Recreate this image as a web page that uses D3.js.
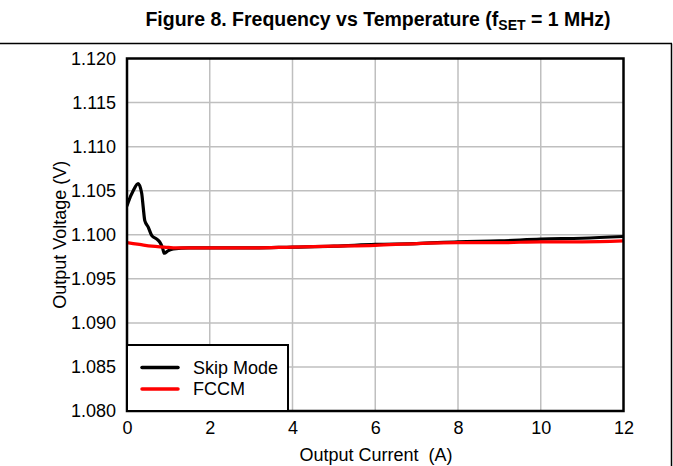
<!DOCTYPE html>
<html><head><meta charset="utf-8">
<script src="https://cdn.jsdelivr.net/npm/d3@7"></script>
<style>
html,body{margin:0;padding:0;background:#fff;}
svg{display:block;font-family:"Liberation Sans",Arial,sans-serif;}
</style></head>
<body>
<svg id="chart" width="673" height="466"></svg>
<script>
const xTicks = [0, 2, 4, 6, 8, 10, 12];
const yTicks = [1.080, 1.085, 1.090, 1.095, 1.100, 1.105, 1.110, 1.115, 1.120];
const seriesNames = ["Skip Mode", "FCCM"];
const seriesColors = ["#000000", "#ff0000"];
const skipI = [0, 0.03, 0.15, 0.27, 0.355, 0.39, 0.43, 0.51, 0.60, 0.72, 0.80, 0.86, 0.90, 1.0, 1.12, 1.5, 2, 3, 4, 5, 6, 7, 8, 9, 10, 11, 12];
const skipV = [1.1033, 1.1037, 1.1050, 1.1058, 1.1047, 1.1032, 1.1016, 1.1009, 1.0999, 1.0995, 1.0991, 1.0985, 1.0979, 1.0982, 1.0984, 1.0985, 1.0985, 1.0985, 1.0986, 1.0987, 1.0989, 1.0990, 1.0992, 1.0993, 1.0995, 1.0996, 1.0998];
const fccmI = [0, 0.3, 0.6, 0.9, 1.2, 2, 3, 4, 5, 6, 7, 8, 9, 10, 11, 12];
const fccmV = [1.0991, 1.0989, 1.0987, 1.0986, 1.0985, 1.0985, 1.0985, 1.0986, 1.0987, 1.0988, 1.0990, 1.0991, 1.0991, 1.0992, 1.0992, 1.0993];

const svg = d3.select("#chart");
const m = {left: 127, top: 58.5, right: 623.5, bottom: 411};
const x = d3.scaleLinear().domain([0, 12]).range([m.left, m.right]);
const y = d3.scaleLinear().domain([1.080, 1.120]).range([m.bottom, m.top]);
const FS = 18;

// frame
svg.append("line").attr("x1", 0).attr("x2", 672).attr("y1", 43.5).attr("y2", 43.5).attr("stroke", "#000").attr("stroke-width", 1.5);
svg.append("line").attr("x1", 671.5).attr("x2", 671.5).attr("y1", 43.5).attr("y2", 466).attr("stroke", "#000").attr("stroke-width", 1.5);

// title
const title = svg.append("text").attr("x", 378).attr("y", 26).attr("text-anchor", "middle")
  .attr("font-weight", "bold").attr("font-size", 19.5).attr("fill", "#000");
title.append("tspan").text("Figure 8. Frequency vs Temperature (f");
title.append("tspan").attr("font-size", 14).attr("dy", 4).text("SET");
title.append("tspan").attr("dy", -4).text(" = 1 MHz)");

// grid
svg.append("g").selectAll("line").data(xTicks.slice(1, -1)).join("line")
  .attr("x1", d => x(d)).attr("x2", d => x(d)).attr("y1", m.top).attr("y2", m.bottom)
  .attr("stroke", "#bfbfbf").attr("stroke-width", 1.5);
svg.append("g").selectAll("line").data(yTicks.slice(1, -1)).join("line")
  .attr("x1", m.left).attr("x2", m.right).attr("y1", d => y(d)).attr("y2", d => y(d))
  .attr("stroke", "#bfbfbf").attr("stroke-width", 1.5);

// axes labels
const xAxis = d3.axisBottom(x).tickValues(xTicks).tickFormat(d3.format("d")).tickSize(0).tickPadding(10);
const gx = svg.append("g").attr("transform", `translate(0,${m.bottom})`).call(xAxis);
gx.select(".domain").remove();
gx.selectAll("text").attr("font-size", FS).attr("fill", "#000").attr("font-family", "Liberation Sans, Arial, sans-serif");

const yAxis = d3.axisLeft(y).tickValues(yTicks).tickFormat(d3.format(".3f")).tickSize(0).tickPadding(11);
const gy = svg.append("g").attr("transform", `translate(${m.left},0)`).call(yAxis);
gy.select(".domain").remove();
gy.selectAll("text").attr("font-size", FS).attr("fill", "#000").attr("font-family", "Liberation Sans, Arial, sans-serif");

// axis titles
svg.append("text").attr("x", 376).attr("y", 461).attr("text-anchor", "middle").attr("font-size", FS)
  .style("white-space", "pre").text("Output Current  (A)");
svg.append("text").attr("transform", `translate(66,${(m.top + m.bottom) / 2}) rotate(-90)`)
  .attr("text-anchor", "middle").attr("font-size", FS).text("Output Voltage (V)");

// lines
svg.append("clipPath").attr("id", "clip").append("rect")
  .attr("x", m.left).attr("y", m.top).attr("width", m.right - m.left).attr("height", m.bottom - m.top);
const line = d3.line().x(d => x(d[0])).y(d => y(d[1])).curve(d3.curveMonotoneX);
const series = [d3.zip(skipI, skipV), d3.zip(fccmI, fccmV)];
svg.append("g").attr("clip-path", "url(#clip)").selectAll("path").data(series).join("path")
  .attr("d", line).attr("fill", "none")
  .attr("stroke", (d, i) => seriesColors[i]).attr("stroke-width", 3.2)
  .attr("stroke-linejoin", "round").attr("stroke-linecap", "round");

// plot border
svg.append("rect").attr("x", m.left).attr("y", m.top).attr("width", m.right - m.left).attr("height", m.bottom - m.top)
  .attr("fill", "none").attr("stroke", "#000").attr("stroke-width", 2.5);

// legend
const lg = svg.append("g");
lg.append("rect").attr("x", m.left).attr("y", 345).attr("width", 161).attr("height", m.bottom - 345)
  .attr("fill", "#fff").attr("stroke", "#000").attr("stroke-width", 2);
seriesNames.forEach((n, i) => {
  const yy = 367.5 + i * 21.5;
  lg.append("line").attr("x1", 142).attr("x2", 178).attr("y1", yy).attr("y2", yy)
    .attr("stroke", seriesColors[i]).attr("stroke-width", 3.5).attr("stroke-linecap", "round");
  lg.append("text").attr("x", 193).attr("y", yy + 6).attr("font-size", FS).text(n);
});
</script>
</body></html>
